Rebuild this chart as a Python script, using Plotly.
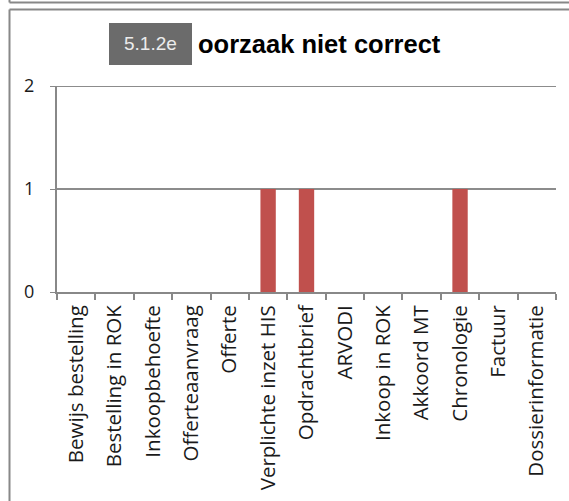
import plotly.graph_objects as go

categories = ["Bewijs bestelling", "Bestelling in ROK", "Inkoopbehoefte", "Offerteaanvraag",
              "Offerte", "Verplichte inzet HIS", "Opdrachtbrief", "ARVODI", "Inkoop in ROK",
              "Akkoord MT", "Chronologie", "Factuur", "Dossierinformatie"]
values = [0, 0, 0, 0, 0, 1, 1, 0, 0, 0, 1, 0, 0]
y_ticks = [0, 1, 2]
title_text = "oorzaak niet correct"
label_text = "5.1.2e"

W, H = 569, 501
L, R, T, B = 57, 13, 86, 209
pw, ph = W - L - R, H - T - B

def px(x):
    return (x - L) / pw

def py(y):
    return (H - B - y) / ph

fig = go.Figure(go.Bar(x=categories, y=values, marker_color="#c0504d",
                       marker_line_width=0))

font_lbl = "'Open Sans', Lato, sans-serif"
fig.update_layout(
    width=W, height=H,
    margin=dict(l=L, r=R, t=T, b=B),
    paper_bgcolor="white", plot_bgcolor="white",
    bargap=0.6, showlegend=False,
    xaxis=dict(type="category", tickangle=-90, showgrid=False,
               showline=True, linecolor="#888888", linewidth=2,
               ticks="outside", tickson="boundaries", ticklen=6,
               tickcolor="#888888", tickwidth=1.5, ticklabelstandoff=3,
               tickfont=dict(family=font_lbl, size=20.5, color="#1a1a1a")),
    yaxis=dict(range=[0, 2], tickvals=y_ticks, showgrid=True,
               gridcolor="#8c8c8c", gridwidth=2,
               showline=True, linecolor="#888888", linewidth=2,
               ticks="outside", ticklen=5, tickcolor="#888888",
               ticklabelstandoff=12,
               tickfont=dict(family=font_lbl, size=18, color="#1a1a1a"),
               zeroline=False),
)

shapes = [
    # top gridline (at max of the y range)
    dict(type="line", xref="paper", yref="y", x0=0, x1=1,
         y0=y_ticks[-1], y1=y_ticks[-1], layer="above",
         line=dict(color="#8c8c8c", width=2)),
    dict(type="line", xref="paper", yref="paper", x0=px(9.5), x1=px(575),
         y0=py(2.5), y1=py(2.5), line=dict(color="#888888", width=2)),
    dict(type="line", xref="paper", yref="paper", x0=px(9.5), x1=px(575),
         y0=py(9.5), y1=py(9.5), line=dict(color="#888888", width=2)),
    dict(type="line", xref="paper", yref="paper", x0=px(9.5), x1=px(9.5),
         y0=py(9.5), y1=py(505), line=dict(color="#888888", width=2)),
    dict(type="line", xref="paper", yref="paper", x0=px(9.5), x1=px(9.5),
         y0=py(-5), y1=py(2.5), line=dict(color="#888888", width=2)),
    dict(type="rect", xref="paper", yref="paper", x0=px(109), x1=px(192),
         y0=py(65), y1=py(23), fillcolor="#6b6b6b", line=dict(width=0)),
]
fig.update_layout(shapes=shapes)

fig.add_annotation(xref="paper", yref="paper", x=px(150.5), y=py(43),
                   text=label_text, showarrow=False, xanchor="center", yanchor="middle",
                   font=dict(family="Liberation Sans, Arial", size=19, color="#ececec"))
fig.add_annotation(xref="paper", yref="paper", x=px(196), y=py(44),
                   text="<b>" + title_text + "</b>", showarrow=False,
                   xanchor="left", yanchor="middle",
                   font=dict(family="Liberation Sans, Arial", size=25.5, color="black"))

fig.write_html("out.html", config={"displayModeBar": False},
               post_script="document.body.style.margin='0';")
